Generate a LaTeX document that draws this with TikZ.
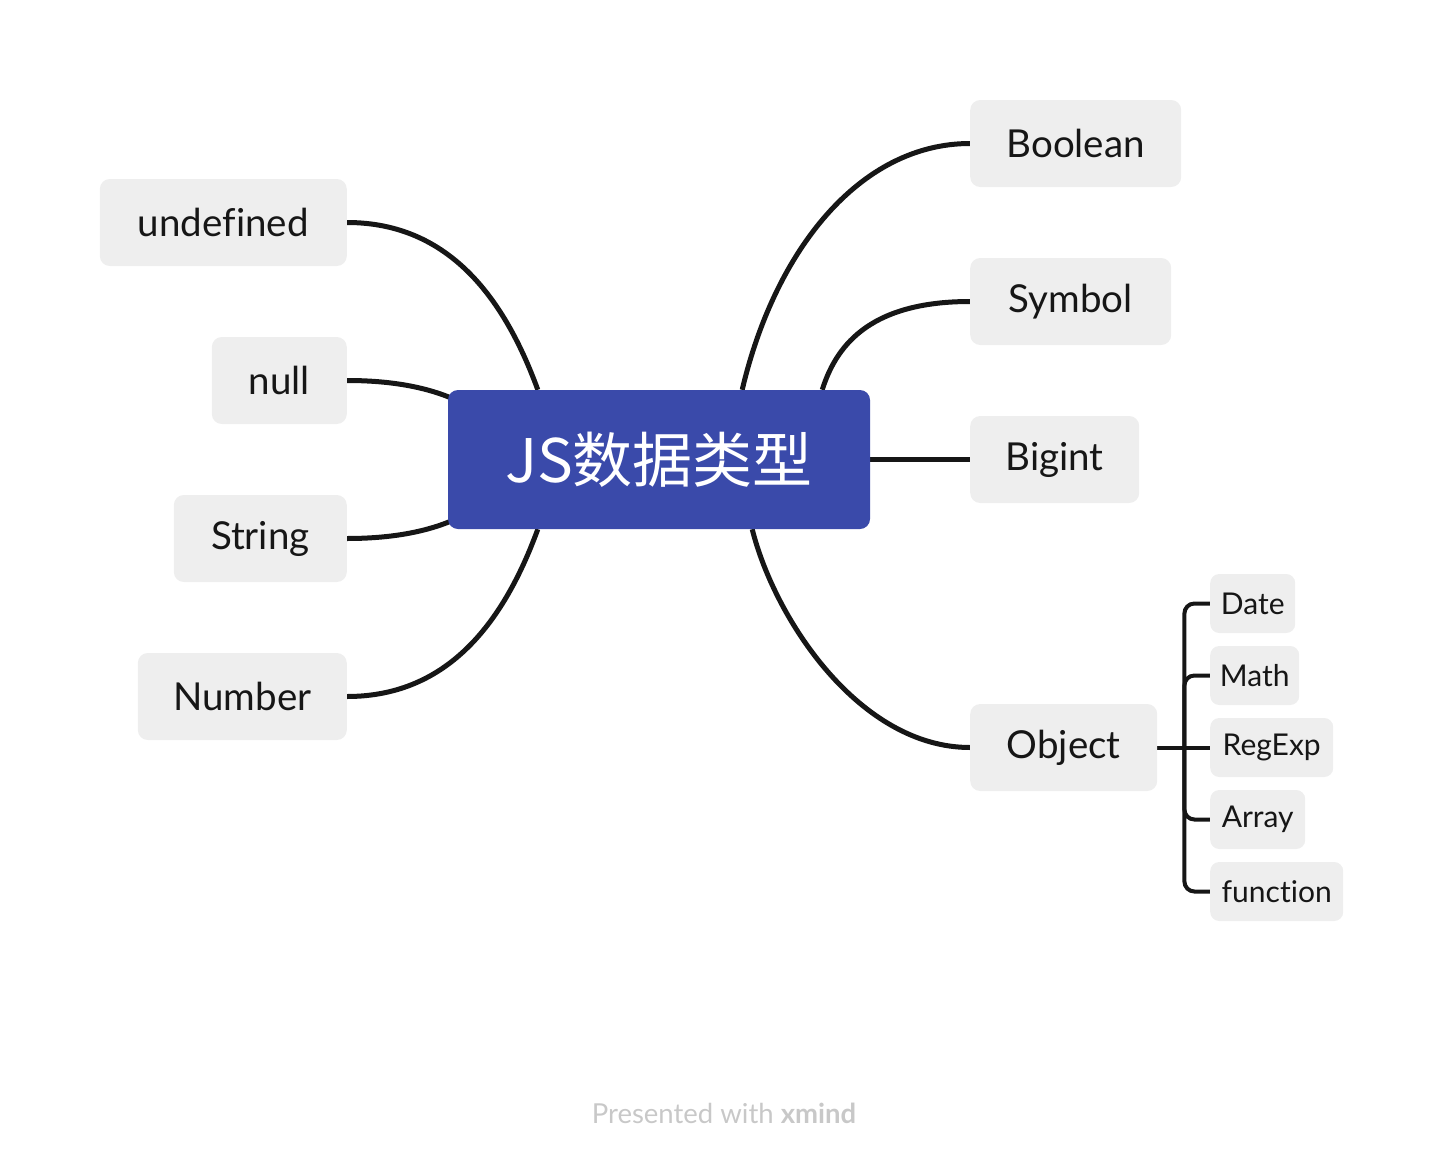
\documentclass[tikz,border=0pt]{standalone}
\usepackage{fontspec}
\setmainfont{Lato}[Ligatures=NoCommon]
\newfontfamily\cjk{Noto Sans CJK SC}
\usetikzlibrary{positioning, backgrounds}
\definecolor{rootblue}{RGB}{58,74,170}
\definecolor{leafgray}{RGB}{238,238,238}
\definecolor{ink}{RGB}{22,22,22}
\definecolor{markgray}{RGB}{200,200,200}
\begin{document}
\begin{tikzpicture}[x=1pt, y=-1pt]
		\tikzstyle{Root} = [rectangle, rounded corners=10pt, minimum width=422pt, minimum height=139pt, inner sep=0pt, text centered, fill=rootblue, text=white, font=\cjk\fontsize{60}{72}\selectfont]
		\tikzstyle{Node} = [rectangle, rounded corners=10pt, minimum height=87pt, inner sep=0pt, text centered, fill=leafgray, text=ink, font=\fontsize{38.5}{46}\selectfont]
		\tikzstyle{SubNode} = [rectangle, rounded corners=9pt, minimum height=59pt, inner sep=0pt, text centered, fill=leafgray, text=ink, font=\fontsize{30}{36}\selectfont]
		\tikzstyle{line} = [line width=5pt, draw=ink]
		\tikzstyle{subline} = [line width=4pt, draw=ink]
		\useasboundingbox (0,0) rectangle (1444,1162);
		
		\node (root) [Root] at (659,459.5) {JS数据类型};
		
		\node (undef) [Node, minimum width=247pt, anchor=east] at (347,222.5) {undefined};
		\node (null) [Node, minimum width=135pt, anchor=east] at (347,380.5) {null};
		\node (str) [Node, minimum width=173pt, anchor=east] at (347,538.5) {String};
		\node (num) [Node, minimum width=209pt, anchor=east] at (347,696.5) {Number};
		
		\node (bool) [Node, minimum width=211pt, anchor=west] at (970,143.5) {Boolean};
		\node (sym) [Node, minimum width=201pt, anchor=west] at (970,301.5) {Symbol};
		\node (big) [Node, minimum width=169pt, anchor=west] at (970,459.5) {Bigint};
		\node (obj) [Node, minimum width=187pt, anchor=west] at (970,747.5) {Object};
		
		\node (date) [SubNode, minimum width=85pt, anchor=west] at (1210,603.5) {Date};
		\node (math) [SubNode, minimum width=89pt, anchor=west] at (1210,675.5) {Math};
		\node (reg) [SubNode, minimum width=123pt, anchor=west] at (1210,747.5) {RegExp};
		\node (arr) [SubNode, minimum width=95pt, anchor=west] at (1210,819.5) {Array};
		\node (fun) [SubNode, minimum width=133pt, anchor=west] at (1210,891.5) {function};
		
		\node (mark) [text=markgray, font=\fontsize{27.5}{33}\selectfont] at (724,1113) {Presented with \textbf{xmind}};
		
		\begin{scope}[on background layer]
		\draw[line] (undef.east) .. controls (450,222.5) and (505,300) .. ([xshift=90pt]root.north west);
		\draw[line] (null.east) .. controls (400,380.5) and (435,390) .. ([xshift=12pt,yshift=-12pt]root.north west);
		\draw[line] (str.east) .. controls (400,538.5) and (435,529) .. ([xshift=12pt,yshift=12pt]root.south west);
		\draw[line] (num.east) .. controls (450,696.5) and (505,619) .. ([xshift=90pt]root.south west);
		
		\draw[line] ([xshift=-128pt]root.north east) .. controls (775,250) and (860,143.5) .. (bool.west);
		\draw[line] ([xshift=-48pt]root.north east) .. controls (835,350) and (865,301.5) .. (sym.west);
		\draw[line] (root.east) -- (big.west);
		\draw[line] ([xshift=-118pt]root.south east) .. controls (775,620) and (860,747.5) .. (obj.west);
		
		\draw[subline] (obj.east) -- (reg.west);
		\foreach \n in {date, math, arr, fun}
			\draw[subline, rounded corners=10pt] ([xshift=27pt]obj.east) |- (\n.west);
		\end{scope}
		\end{tikzpicture}
\end{document}
